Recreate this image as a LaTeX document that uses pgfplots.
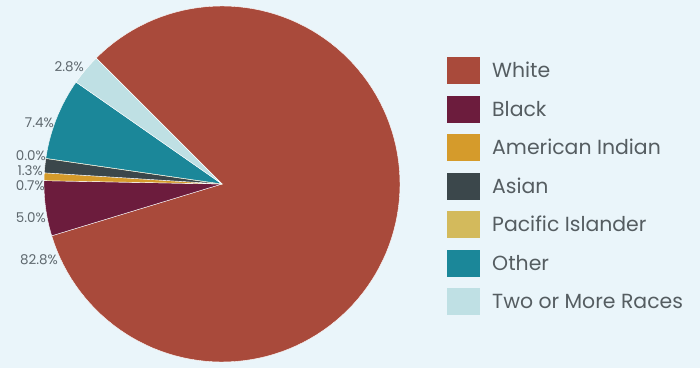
\documentclass[border=0pt]{standalone}
\usepackage{pgfplots}
\pgfplotsset{compat=1.18}
\usepackage{fontspec}
\setmainfont{Poppins}
\definecolor{bg}{HTML}{EAF5FA}
\definecolor{cWhite}{HTML}{A94A3B}
\definecolor{cBlack}{HTML}{6C1C3D}
\definecolor{cAmInd}{HTML}{D59B2B}
\definecolor{cAsian}{HTML}{3B474B}
\definecolor{cPacific}{HTML}{D3BA5C}
\definecolor{cOther}{HTML}{1B8799}
\definecolor{cTwo}{HTML}{BFE0E4}
\definecolor{lbl}{HTML}{5E686E}
\definecolor{legtxt}{HTML}{555D61}
% shares (percent), clockwise from the top-left edge of White
\def\vWhite{82.8}\def\vBlack{5.0}\def\vAmInd{0.7}\def\vAsian{1.3}\def\vPacific{0.0}\def\vOther{7.4}\def\vTwo{2.8}
\pgfmathsetmacro{\aA}{135}
\pgfmathsetmacro{\aB}{\aA-3.6*\vWhite}
\pgfmathsetmacro{\aC}{\aB-3.6*\vBlack}
\pgfmathsetmacro{\aD}{\aC-3.6*\vAmInd}
\pgfmathsetmacro{\aE}{\aD-3.6*\vAsian}
\pgfmathsetmacro{\aF}{\aE-3.6*\vPacific}
\pgfmathsetmacro{\aG}{\aF-3.6*\vOther}
\pgfmathsetmacro{\aH}{\aG-3.6*\vTwo}
\def\cx{222}\def\cy{184}\def\R{178}
\begin{document}
\begin{tikzpicture}
\begin{axis}[
  scale only axis, width=700bp, height=368bp,
  xmin=0, xmax=700, ymin=0, ymax=368,
  hide axis, clip=false,
  legend style={at={(axis cs:447,311)}, anchor=north west, draw=none, fill=none,
    inner sep=0pt, row sep=11.5bp, column sep=12bp,
    nodes={inner sep=0pt, text=legtxt, font=\fontsize{20.5}{24}\selectfont}},
  legend cell align=left,
  legend image code/.code={\fill[#1,draw=none] (0bp,-13.5bp) rectangle (33bp,13.5bp);},
]
\fill[bg] (axis cs:0,0) rectangle (axis cs:700,368);
\addplot[fill=cWhite, draw=white, line width=0.4pt, domain=\aB:\aA, samples=120, variable=\t]
  ({\cx+\R*cos(t)},{\cy+\R*sin(t)}) -- (axis cs:\cx,\cy) -- cycle;
\addlegendentry{White}
\addplot[fill=cBlack, draw=white, line width=0.4pt, domain=\aC:\aB, samples=20, variable=\t]
  ({\cx+\R*cos(t)},{\cy+\R*sin(t)}) -- (axis cs:\cx,\cy) -- cycle;
\addlegendentry{Black}
\addplot[fill=cAmInd, draw=white, line width=0.4pt, domain=\aD:\aC, samples=5, variable=\t]
  ({\cx+\R*cos(t)},{\cy+\R*sin(t)}) -- (axis cs:\cx,\cy) -- cycle;
\addlegendentry{American Indian}
\addplot[fill=cAsian, draw=white, line width=0.4pt, domain=\aE:\aD, samples=5, variable=\t]
  ({\cx+\R*cos(t)},{\cy+\R*sin(t)}) -- (axis cs:\cx,\cy) -- cycle;
\addlegendentry{Asian}
\addplot[fill=cPacific, draw=cPacific!60!white, line width=0.8pt, samples at={\aE}, variable=\t]
  ({\cx+\R*cos(t)},{\cy+\R*sin(t)}) -- (axis cs:\cx,\cy) -- cycle;
\addlegendentry{Pacific Islander}
\addplot[fill=cOther, draw=white, line width=0.4pt, domain=\aG:\aF, samples=30, variable=\t]
  ({\cx+\R*cos(t)},{\cy+\R*sin(t)}) -- (axis cs:\cx,\cy) -- cycle;
\addlegendentry{Other}
\addplot[fill=cTwo, draw=white, line width=0.4pt, domain=\aH:\aG, samples=15, variable=\t]
  ({\cx+\R*cos(t)},{\cy+\R*sin(t)}) -- (axis cs:\cx,\cy) -- cycle;
\addlegendentry{Two or More Races}
\begin{scope}[every node/.style={anchor=east, inner sep=0pt, text=lbl, font=\fontsize{13.5}{15}\selectfont}]
\node at (axis cs:84,301) {2.8\%};
\node at (axis cs:54,245) {7.4\%};
\node at (axis cs:46,212) {0.0\%};
\node at (axis cs:43,197) {1.3\%};
\node at (axis cs:45,182) {0.7\%};
\node at (axis cs:46,150) {5.0\%};
\node at (axis cs:58,108) {82.8\%};
\end{scope}
\end{axis}
\end{tikzpicture}
\end{document}
